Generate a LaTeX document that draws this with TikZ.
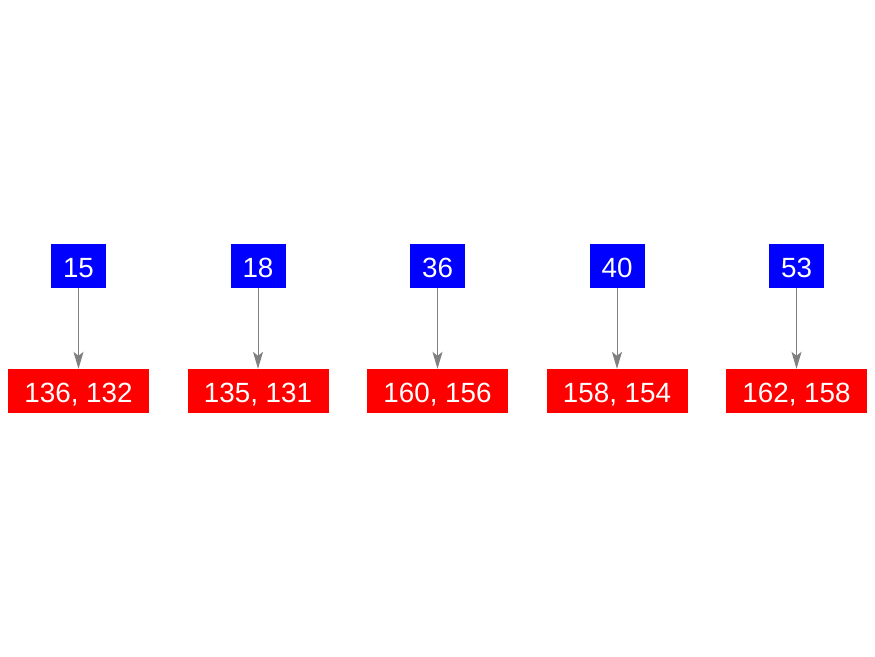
\documentclass[tikz,border=0pt]{standalone}
\usepackage{fontspec}
\setmainfont{Liberation Sans}
\usetikzlibrary{arrows.meta}
\begin{document}
\begin{tikzpicture}[x=1pt,y=-1pt,
  boxtext/.style={text=white, inner sep=0pt, text height=25pt, text depth=1.3pt, font=\fontsize{27.8pt}{30pt}\selectfont},
  keybox/.style={boxtext, fill=blue, minimum width=55pt, minimum height=44pt},
  valbox/.style={boxtext, fill=red, minimum width=141pt, minimum height=44pt},
  link/.style={draw=gray, line width=1pt, -{Stealth[length=17pt,width=10pt,inset=4pt]}}]
\useasboundingbox (0,0) rectangle (875,656);
\node[keybox] (k1) at (78.5,265.5) {15};
\node[keybox] (k2) at (258,265.5) {18};
\node[keybox] (k3) at (437.5,265.5) {36};
\node[keybox] (k4) at (617,265.5) {40};
\node[keybox] (k5) at (796.5,265.5) {53};
\node[valbox] (v1) at (78.5,391) {136, 132};
\node[valbox] (v2) at (258,391) {135, 131};
\node[valbox] (v3) at (437.5,391) {160, 156};
\node[valbox] (v4) at (617,391) {158, 154};
\node[valbox] (v5) at (796.5,391) {162, 158};
\foreach \i in {1,...,5} \draw[link] (k\i) -- (v\i);
\end{tikzpicture}
\end{document}
